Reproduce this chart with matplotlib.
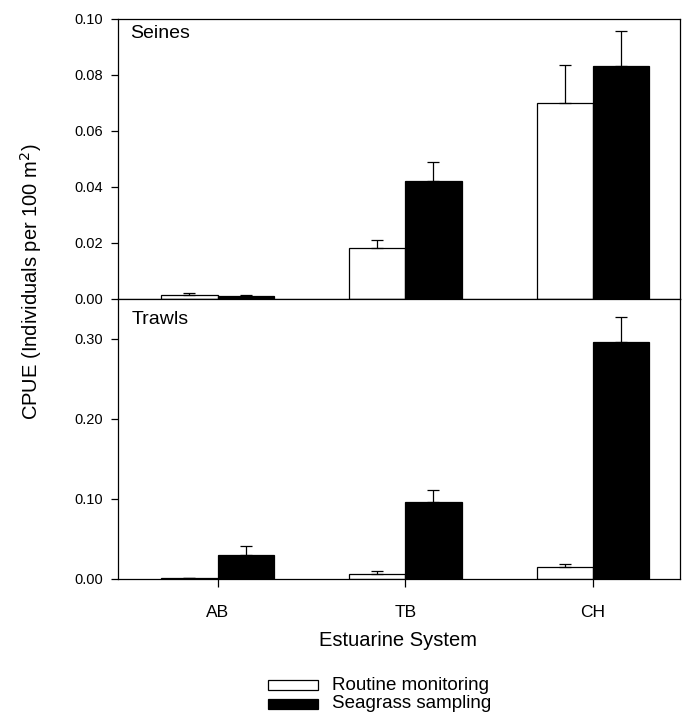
import matplotlib
matplotlib.use("Agg")
import matplotlib.pyplot as plt
import numpy as np
from matplotlib.patches import Rectangle

plt.rcParams['font.family'] = ['Liberation Sans', 'DejaVu Sans']

categories = ["AB", "TB", "CH"]
seine_routine = [0.0015, 0.0182, 0.0701]
seine_routine_err = [0.0005, 0.0029, 0.0133]
seine_seagrass = [0.0009, 0.0421, 0.0831]
seine_seagrass_err = [0.0004, 0.0070, 0.0127]
trawl_routine = [0.0008, 0.0062, 0.0145]
trawl_routine_err = [0.0004, 0.0033, 0.0038]
trawl_seagrass = [0.0295, 0.0963, 0.2957]
trawl_seagrass_err = [0.0120, 0.0147, 0.0313]
legend_labels = ["Routine monitoring", "Seagrass sampling"]

fig = plt.figure(figsize=(6.85, 7.23), dpi=100)
W, H = 685, 723
left, right = 118 / W, 680 / W
top, mid, bot = 19, 299, 579
ax1 = fig.add_axes([left, 1 - mid / H, right - left, (mid - top) / H])
ax2 = fig.add_axes([left, 1 - bot / H, right - left, (bot - mid) / H])

x = np.arange(len(categories))
w = 0.3
ekw = dict(ecolor='black', elinewidth=0.9, capsize=4.5, capthick=0.9)

def draw(ax, r, re, s, se):
    ax.bar(x - w / 2, r, w, color='white', edgecolor='black', linewidth=0.9,
           yerr=[np.zeros(len(r)), re], error_kw=ekw)
    ax.bar(x + w / 2, s, w, color='black', edgecolor='black', linewidth=0.9,
           yerr=[np.zeros(len(s)), se], error_kw=ekw)
    ax.set_xlim(-0.53, 2.463)
    for sp in ax.spines.values():
        sp.set_linewidth(0.9)
    ax.tick_params(axis='y', direction='out', length=5, width=0.9, labelsize=10.5, pad=6)

draw(ax1, seine_routine, seine_routine_err, seine_seagrass, seine_seagrass_err)
ax1.set_ylim(0, 0.10)
ax1.set_yticks([0.0, 0.02, 0.04, 0.06, 0.08, 0.10])
ax1.set_yticklabels(["0.00", "0.02", "0.04", "0.06", "0.08", "0.10"])
ax1.set_xticks([])
ax1.text(12 / 562, 1 - 6 / 280, "Seines", transform=ax1.transAxes, fontsize=14, va='top', ha='left')

draw(ax2, trawl_routine, trawl_routine_err, trawl_seagrass, trawl_seagrass_err)
ax2.set_ylim(0, 0.35)
ax2.set_yticks([0.0, 0.1, 0.2, 0.3])
ax2.set_yticklabels(["0.00", "0.10", "0.20", "0.30"])
ax2.set_xticks(x)
ax2.set_xticklabels(categories)
ax2.tick_params(axis='x', direction='out', length=6, width=0.9, labelsize=12.5, pad=13)
ax2.text(14 / 562, 1 - 12 / 280, "Trawls", transform=ax2.transAxes, fontsize=14, va='top', ha='left')

fig.text(31 / W, 1 - 282 / H, "CPUE (Individuals per 100 m$^2$)", rotation=90,
         ha='center', va='center', fontsize=14.5)
fig.text(398 / W, 1 - 641 / H, "Estuarine System", ha='center', va='center', fontsize=14.5)

# legend drawn manually (tight row spacing as in the reference)
rows_y = [685, 704]
colors = ['white', 'black']
for yy, c, lab in zip(rows_y, colors, legend_labels):
    fig.patches.append(Rectangle((268 / W, 1 - (yy + 5) / H), 50 / W, 10 / H,
                                 facecolor=c, edgecolor='black', linewidth=0.9,
                                 transform=fig.transFigure, figure=fig))
    fig.text(332 / W, 1 - yy / H, lab, ha='left', va='center', fontsize=13.5)

fig.savefig("out.png", dpi=100)
